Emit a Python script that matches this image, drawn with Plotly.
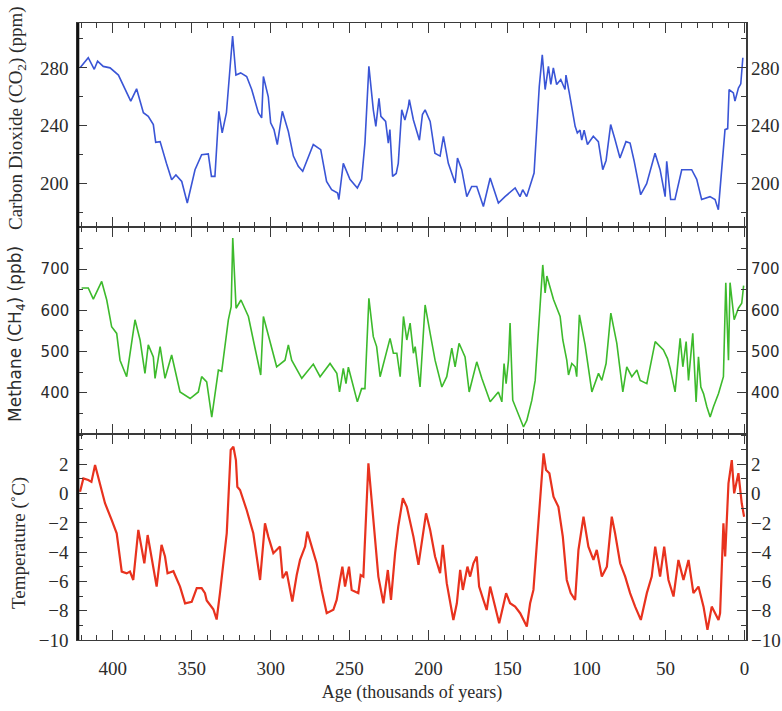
import plotly.graph_objects as go

# ---------------- data (age in thousands of years before present) ----------------
co2_age = [420.7, 415.5, 411.7, 409.6, 406, 401.7, 396.4, 391.1, 388.6, 384.9, 380.6, 377.5, 374.3,
           372.8, 370, 366, 362.7, 360, 356.3, 352.8, 347.9, 343.7, 339.5, 337.5, 335.3, 332.8, 330.7,
           328, 324.1, 322, 319, 315.2, 312, 307.8, 305.7, 304.6, 301.5, 300, 297.9, 295.8, 292.6,
           288.8, 285.6, 282.5, 279.7, 273, 268.3, 264.6, 261.4, 257.6, 256.8, 254, 249.8, 245.1,
           242.4, 240.3, 237.8, 235, 233.4, 231.4, 230.2, 227.2, 225.5, 224.5, 222.8, 220.5, 219.2,
           217, 215, 212.8, 212.2, 209.6, 205.8, 203.9, 202.2, 199, 196, 192.7, 190.6, 187.5, 183.2,
           181.7, 179, 175.8, 172.7, 169.5, 165.3, 161, 155.8, 151.6, 145.2, 142.1, 140.4, 137.9,
           134.7, 133.2, 129.9, 128, 126.2, 124.1, 122.6, 121, 118.9, 116.3, 113.6, 113, 110.9,
           107.2, 105.8, 104.1, 103, 101.5, 99.4, 95.7, 92.5, 89.7, 87.6, 84.7, 82, 78.8, 75, 72.4,
           69.9, 65.7, 61.9, 56.6, 53.4, 50.2, 49.2, 46.7, 44, 39.7, 33.4, 30.2, 27.1, 21.8, 18.6,
           16.5, 12.3, 10.6, 9.7, 7, 6, 3.8, 2.3, 1]
co2_ppm = [280, 287, 279, 284.6, 281, 280, 275, 262.7, 257, 265.5, 249, 246.5, 240.8,
           228.5, 229, 214, 202.7, 206, 201.5, 186.6, 209.6, 220, 220.5, 205, 205, 250, 235,
           249, 302, 275, 276.5, 274, 265, 249, 245.4, 274, 260, 242, 237.3, 227, 250,
           236, 219, 212, 208.5, 227, 223.5, 201.5, 195.8, 193.5, 189, 214, 203, 197,
           203, 228, 281, 251, 239.6, 259, 246.5, 243, 228, 237.3, 205, 207, 214,
           251, 244, 253.4, 258, 244, 230, 247.7, 251, 243, 221, 219, 232.7, 214, 200.4,
           217.7, 209.6, 191, 198, 198, 184.2, 203.9, 186.6, 191, 197, 191, 195.8, 191,
           202.7, 207.3, 267.3, 289, 265, 281, 268.5, 280, 268.5, 272, 265, 275, 262.7,
           239.6, 235, 237, 230, 237, 227, 232.7, 229, 209.6, 216, 240.8, 230.6, 217.7, 229, 228,
           216, 192.3, 200, 221, 209.6, 191, 215.4, 189, 189, 209.6, 209.6, 203, 189, 191, 189,
           182, 237.3, 238, 265, 262.7, 257, 266, 269, 287]

ch4_age = [419.7, 415.5, 412.3, 407, 403.8, 400.7, 397.5, 395.4, 391.2, 385.9, 382.7, 379.6, 377.5,
           374.3, 373.2, 370, 366.9, 362.7, 357.4, 351, 345.8, 343.7, 340.5, 337.3, 333.1, 331,
           326.8, 325, 324, 321.9, 318.8, 314.1, 311, 306.3, 304.6, 301.5, 298.7, 296.2, 290.9,
           288.8, 286.7, 280.3, 273, 268.7, 262.4, 258.1, 256.4, 254, 252.3, 250.8, 245.1, 242.4,
           240.3, 237.8, 235, 232.9, 230.7, 224.4, 222.3, 220.1, 218, 215.9, 213.8, 211.7, 209.6,
           208.5, 205.4, 202.2, 199, 195.9, 191.6, 188.5, 185.3, 183.2, 180.7, 176.9, 174.3, 169.5,
           166.3, 161, 155.8, 153.6, 152.2, 150.9, 149.4, 148.4, 146.7, 144.2, 139.9, 137.8, 134.6,
           132.5, 127.7, 126.2, 125.1, 120.9, 116.7, 115, 112.5, 111.4, 109.3, 107.2, 106.2, 104.5,
           100.9, 96.6, 92.4, 90.3, 87.6, 84.6, 80.8, 77, 74.5, 71.3, 68.1, 66, 61.8, 56.5, 54.4,
           51.3, 48.7, 47, 43.9, 40.7, 39, 36.9, 35.4, 32.7, 30.6, 29.1, 27.6, 25.9, 23.8, 21.7,
           19.6, 16.4, 13.3, 11.8, 10.1, 9.1, 6.5, 3.8, 1.7, 0.5]
ch4_ppb = [654, 654, 627, 670, 625, 560, 544, 479, 439, 577, 528, 447, 516,
           487, 435, 512, 435, 491.5, 402, 386, 402, 439, 426.5, 341, 455, 452,
           577, 609, 775, 605, 625, 585, 528, 443, 585, 540, 495.6, 463, 479,
           516, 479, 435, 469.6, 439, 471, 447, 402, 459, 422, 462, 378, 410,
           410, 629, 536, 512, 439, 532, 496, 496, 439, 585, 528, 569, 496,
           512, 414, 613, 544, 479, 414, 439, 508, 463, 520, 487, 402, 475,
           435, 378, 402, 378, 471, 422, 479, 569, 382, 358, 317, 333, 382,
           430, 710, 642, 683, 626, 585, 528, 479, 443, 471, 463, 439, 589,
           516, 402, 447, 430, 471, 593, 520, 402, 463, 439, 455, 430, 422, 524, 516,
           504, 483, 459, 402, 532, 463, 524, 430, 544, 378, 487, 414, 398, 366, 341,
           366, 398, 439, 667, 479, 667, 577, 605, 617, 660]

temp_age = [420.7, 418.6, 415.5, 413.5, 411.2, 408, 404.9, 400.7, 397.5, 394.3, 391.2, 389.1, 387,
            383.8, 381.7, 380, 377.9, 375.3, 372.2, 369.1, 366.9, 365.3, 361.6, 357.4, 354.2, 350,
            346.8, 343.7, 341.6, 340.5, 336.3, 334.2, 332.1, 327.8, 325.3, 323.6, 322, 321.1, 319.4,
            315.2, 311, 306.7, 303.6, 301.5, 298.3, 294.1, 292.4, 289.9, 286.3, 283.5, 281.4, 278.2,
            276.8, 274, 270.9, 267.7, 264.5, 260.3, 258.2, 256.1, 254.6, 252.9, 250.4, 248.7, 244.5,
            243, 241.3, 238.1, 235, 231.8, 228.6, 225.8, 223.8, 221.2, 219.2, 216.3, 213.8, 209.6,
            206.4, 204.3, 201.6, 199, 195.9, 192.7, 191, 188.5, 185.3, 184.3, 182.1, 180, 178.3,
            175.4, 173.7, 171.6, 169.5, 168, 165.3, 163.2, 161, 158.9, 155.3, 150.9, 148.4, 145.2,
            142, 137.8, 135.7, 133.6, 130.4, 127.2, 125.6, 123.5, 120.9, 117.8, 115, 112.5, 110,
            107.2, 105.1, 101.9, 98.8, 95.6, 93.5, 90.3, 87.1, 84, 81.9, 78.7, 75.5, 72.4, 69.2,
            65.6, 61.8, 58.7, 56.5, 53.4, 50.8, 48.1, 44.9, 41.8, 38.6, 35.4, 32.3, 29.1, 25.9,
            23.4, 20.7, 16.4, 15.4, 13.3, 12.2, 10.1, 8, 6.5, 3.8, 1.7, 0.2]
temp_c = [0.13, 1.04, 0.93, 0.8, 1.95, 0.7, -0.66, -1.8, -2.71, -5.33, -5.45, -5.33, -5.9,
          -2.48, -3.85, -4.76, -2.83, -4.53, -6.35, -3.5, -4.3, -5.44, -5.3, -6.35, -7.5, -7.4,
          -6.46, -6.46, -6.8, -7.3, -7.9, -8.6, -6.8, -2.7, 2.98, 3.2, 2.29, 0.47, 0.25,
          -1.12, -2.71, -5.9, -2.03, -2.94, -4.07, -3.62, -5.78, -5.33, -7.38, -5.56, -4.53, -3.62,
          -2.6, -3.62, -4.76, -6.58, -8.17, -7.94, -7.26, -5.9, -4.99, -6.35, -4.99, -6.58, -6.8,
          -5.56, -5.67, 2.07, -2.03, -5.67, -7.49, -5.22, -7.26, -4.07, -2.26, -0.32, -0.9, -2.94,
          -4.87, -3.39, -1.35, -2.49, -4.3, -5.44, -3.5, -6.12, -7.95, -8.63, -7.49, -5.21, -6.58,
          -4.99, -5.67, -4.76, -4.3, -6.35, -7.26, -7.95, -6.35, -7.26, -8.85, -6.8, -7.49, -7.72,
          -8.17, -9.08, -7.49, -6.58, -1.8, 2.75, 1.61, 1.39, -0.21, -0.9, -2.94, -5.9, -6.8,
          -7.26, -3.85, -1.58, -3.62, -4.53, -3.85, -5.67, -4.99, -1.58, -2.71, -4.76, -5.67, -6.8, -7.72,
          -8.63, -6.8, -5.67, -3.62, -5.67, -3.62, -5.9, -7.03, -4.53, -5.9, -4.53, -6.8, -6.35, -7.72,
          -9.31, -7.72, -8.63, -8.17, -2.03, -4.3, 0.7, 2.29, 0.02, 1.39, -0.66, -1.58]

x_ticks = [0, 50, 100, 150, 200, 250, 300, 350, 400]
co2_ticks = [200, 240, 280]
ch4_ticks = [400, 500, 600, 700]
temp_ticks = [-10, -8, -6, -4, -2, 0, 2]

# ---------------- figure ----------------
SERIF = "Liberation Serif, Times New Roman, serif"
SANS = "DejaVu Sans, Verdana, sans-serif"
AX = "#3a3a3a"
TXT = "#2b2b2b"

fig = go.Figure()
fig.add_trace(go.Scatter(x=co2_age, y=co2_ppm, mode="lines", xaxis="x3", yaxis="y",
                         line=dict(color="#3a55d6", width=1.6), showlegend=False))
fig.add_trace(go.Scatter(x=ch4_age, y=ch4_ppb, mode="lines", xaxis="x2", yaxis="y2",
                         line=dict(color="#3dba2c", width=1.6), showlegend=False))
fig.add_trace(go.Scatter(x=temp_age, y=temp_c, mode="lines", xaxis="x", yaxis="y3",
                         line=dict(color="#e8321e", width=2.2), showlegend=False))
# invisible copies to carry the right-hand tick labels
for xa, ya, xs, ys in [("x3", "y4", co2_age, co2_ppm), ("x2", "y5", ch4_age, ch4_ppb),
                       ("x", "y6", temp_age, temp_c)]:
    fig.add_trace(go.Scatter(x=xs, y=ys, mode="lines", xaxis=xa, yaxis=ya,
                             line=dict(color="rgba(0,0,0,0)", width=0), hoverinfo="skip",
                             showlegend=False))

# plot frame at x 78..746, y 23..640
H = 617.0
W = 668.0
d3 = [0, 206 / H]
d2 = [206 / H, 413 / H]
d1 = [413 / H, 1]

xcommon = dict(range=[422, -1], tickvals=x_ticks, ticks="inside", ticklen=10, tickwidth=1.3,
               tickcolor=AX, showline=True, linecolor=AX, linewidth=1.2, mirror="ticks",
               showgrid=False, zeroline=False, automargin=False,
               minor=dict(dtick=10, tick0=0, ticks="inside", ticklen=5, tickcolor=AX, tickwidth=1.1))

def ycommon(rng, tv, minor_dt, minor_t0, font):
    return dict(range=rng, tickvals=tv, ticks="inside", ticklen=9, tickwidth=1.3, tickcolor=AX,
                showline=True, linecolor=AX, linewidth=1.5, mirror="ticks", showgrid=False,
                zeroline=False, tickfont=font, ticklabelstandoff=4, automargin=False,
                minor=dict(dtick=minor_dt, tick0=minor_t0, ticks="inside", ticklen=5,
                           tickcolor=AX, tickwidth=1.1))

def yright(rng, tv, font, overlay, anchor):
    return dict(range=rng, tickvals=tv, ticks="", showline=False, showgrid=False, zeroline=False,
                side="right", overlaying=overlay, anchor=anchor, tickfont=font,
                ticklabelstandoff=4, automargin=False)

serif_tick = dict(family=SERIF, size=19, color=TXT)
sans_tick = dict(family=SANS, size=15, color=TXT)

co2_range = [170, 311]
ch4_range = [300, 802]
temp_range = [-10, 4.07]

fig.update_layout(
    width=782, height=711,
    margin=dict(l=78, r=36, t=23, b=71, autoexpand=False),
    paper_bgcolor="white", plot_bgcolor="white",
    xaxis=dict(**xcommon, anchor="y3", domain=[0, 1], showticklabels=True,
               tickfont=serif_tick, ticklabelstandoff=11,
               title=dict(text="Age (thousands of years)", font=dict(family=SERIF, size=18, color=TXT),
                          standoff=7)),
    xaxis2=dict(**xcommon, anchor="y2", domain=[0, 1], matches="x", showticklabels=False),
    xaxis3=dict(**xcommon, anchor="y", domain=[0, 1], matches="x", showticklabels=False),
    yaxis=dict(**ycommon(co2_range, co2_ticks, 20, 180, serif_tick), domain=d1, anchor="x3"),
    yaxis2=dict(**ycommon(ch4_range, ch4_ticks, 50, 350, sans_tick), domain=d2, anchor="x2"),
    yaxis3=dict(**ycommon(temp_range, temp_ticks, 1, 0, serif_tick), domain=d3, anchor="x"),
    yaxis4=yright(co2_range, co2_ticks, serif_tick, "y", "x3"),
    yaxis5=yright(ch4_range, ch4_ticks, sans_tick, "y2", "x2"),
    yaxis6=yright(temp_range, temp_ticks, serif_tick, "y3", "x"),
)

# heavier left frame edge
fig.add_shape(type="line", xref="paper", yref="paper", x0=0, x1=0, y0=0, y1=1,
              line=dict(color="#111111", width=2.6))

# y-axis titles
fig.add_annotation(text="Carbon Dioxide (CO<sub>2</sub>) (ppm)", xref="paper", yref="paper",
                   x=(17 - 78) / W, y=(640 - 118) / H, textangle=-90, showarrow=False,
                   xanchor="center", yanchor="middle", font=dict(family=SERIF, size=19, color=TXT))
fig.add_annotation(text="Methane (CH<sub>4</sub>) (ppb)", xref="paper", yref="paper",
                   x=(17 - 78) / W, y=(640 - 334) / H, textangle=-90, showarrow=False,
                   xanchor="center", yanchor="middle", font=dict(family=SANS, size=17, color=TXT))
fig.add_annotation(text="Temperature (˚C)", xref="paper", yref="paper",
                   x=(19 - 78) / W, y=(640 - 543) / H, textangle=-90, showarrow=False,
                   xanchor="center", yanchor="middle", font=dict(family=SERIF, size=19, color=TXT))

# remove the default page margin so the 782x711 figure fills the window exactly
fig.write_html("out.html", config={"displayModeBar": False},
               post_script="document.body.style.margin='0';document.body.style.overflow='hidden';")
